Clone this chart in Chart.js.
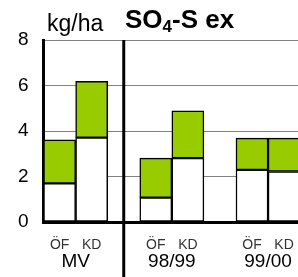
<!DOCTYPE html>
<html>
<head>
<meta charset="utf-8">
<script src="https://cdn.jsdelivr.net/npm/chart.js@4"></script>
<style>
  html, body { margin: 0; padding: 0; background: #fff; overflow: hidden; }
  #wrap { position: relative; width: 310px; height: 277px; }
</style>
</head>
<body>
<div id="wrap"><canvas id="chart"></canvas></div>
<script>
// Daten
const barLabels = ['ÖF', 'KD', '', 'ÖF', 'KD', '', 'ÖF', 'KD'];
const groupLabels = ['MV', '98/99', '99/00'];
const groupFirstBar = [0, 3, 6];   // Gruppe mittig zwischen ÖF und KD
const lowerValues = [1.70, 3.71, null, 1.07, 2.81, null, 2.29, 2.22];
const upperValues = [1.91, 2.47, null, 1.74, 2.08, null, 1.40, 1.47];
const unitText = 'kg/ha';
const titleParts = ['SO', '4', '-S ex'];

const FONT = "'Liberation Sans', Arial, sans-serif";

// Titel, Gruppenbeschriftung + Trennlinie MV | Jahre
const extrasPlugin = {
    id: 'extras',
    afterDatasetsDraw(chart) {
        const ctx = chart.ctx;
        const x = chart.scales.x.getPixelForValue(2);
        ctx.save();
        ctx.strokeStyle = '#000';
        ctx.lineWidth = 3;
        ctx.beginPath();
        ctx.moveTo(x, chart.chartArea.top);
        ctx.lineTo(x, chart.height);
        ctx.stroke();
        ctx.restore();
    },
    afterDraw(chart) {
        const ctx = chart.ctx;
        const xs = chart.scales.x;
        ctx.save();
        ctx.fillStyle = '#000';
        ctx.textBaseline = 'alphabetic';

        ctx.font = '19px ' + FONT;
        ctx.textAlign = 'center';
        groupLabels.forEach((g, i) => {
            const a = xs.getPixelForValue(groupFirstBar[i]);
            const b = xs.getPixelForValue(groupFirstBar[i] + 1);
            ctx.fillText(g, (a + b) / 2, 267);
        });

        ctx.textAlign = 'left';
        ctx.font = '23px ' + FONT;
        ctx.fillText(unitText, 47, 31);
        let x = 125;
        ctx.font = 'bold 26px ' + FONT;
        ctx.fillText(titleParts[0], x, 28);
        x += ctx.measureText(titleParts[0]).width;
        ctx.font = 'bold 17px ' + FONT;
        ctx.fillText(titleParts[1], x, 32);
        x += ctx.measureText(titleParts[1]).width;
        ctx.font = 'bold 26px ' + FONT;
        ctx.fillText(titleParts[2], x, 28);
        ctx.restore();
    }
};

const ctx = document.getElementById('chart').getContext('2d');
new Chart(ctx, {
    type: 'bar',
    data: {
        labels: barLabels,
        datasets: [
            {
                data: lowerValues,
                backgroundColor: '#FFFFFF',
                borderColor: '#000',
                borderWidth: 1.5,
                borderSkipped: false,
                barPercentage: 1,
                categoryPercentage: 1
            },
            {
                data: upperValues,
                backgroundColor: '#99CC00',
                borderColor: '#000',
                borderWidth: 1.5,
                borderSkipped: false,
                barPercentage: 1,
                categoryPercentage: 1
            }
        ]
    },
    options: {
        responsive: true,
        maintainAspectRatio: false,
        animation: false,
        layout: { padding: { top: 40, left: 3, right: 3, bottom: 20 } },
        plugins: {
            legend: { display: false },
            tooltip: { enabled: false }
        },
        scales: {
            x: {
                stacked: true,
                grid: { display: false, drawTicks: false },
                border: { color: '#000', width: 3 },
                afterFit: (scale) => { scale.height = 35; },
                ticks: { color: '#333', font: { family: FONT, size: 14, lineHeight: 1 }, padding: 16, maxRotation: 0, autoSkip: false }
            },
            y: {
                stacked: true,
                min: 0,
                max: 8,
                grid: { color: '#808080', lineWidth: 1, drawTicks: false },
                border: { color: '#000', width: 3 },
                ticks: { stepSize: 2, color: '#000', font: { family: FONT, size: 19 }, padding: 15 }
            }
        }
    },
    plugins: [extrasPlugin]
});
</script>
</body>
</html>
